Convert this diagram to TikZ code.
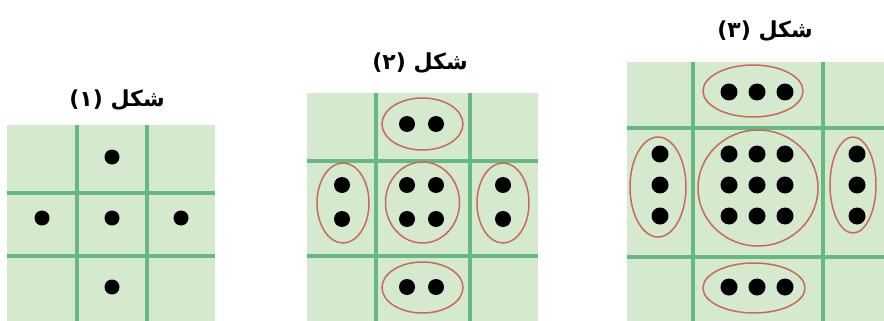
\documentclass[tikz,border=0pt]{standalone}
\usepackage{fontspec}
\newfontfamily\arabicfont[Script=Arabic]{DejaVu Sans}
\TeXXeTstate=1
\definecolor{cellfill}{RGB}{213,233,206}
\definecolor{gridline}{RGB}{102,185,133}
\definecolor{ringred}{RGB}{201,104,92}
\tikzset{
  panel/.style={fill=cellfill,draw=none},
  gline/.style={draw=gridline,line width=3.2pt},
  ring/.style={draw=ringred,line width=1.5pt},
  dotfill/.style={fill=black},
  figtitle/.style={font=\arabicfont\bfseries\fontsize{22}{26}\selectfont,inner sep=0pt}
}
\begin{document}
\begin{tikzpicture}[x=1pt,y=-1pt]
\useasboundingbox (0,0) rectangle (884,321);
\fill[white] (0,0) rectangle (884,321);
% ---------- figure 1 ----------
\fill[panel] (7,125) rectangle (215,321);
\draw[gline] (77,125) -- (77,321);
\draw[gline] (147,125) -- (147,321);
\draw[gline] (7,193) -- (215,193);
\draw[gline] (7,256) -- (215,256);
\foreach \p in {(112,157),(42,218),(112,218),(181,218),(112,287)}
  \fill[dotfill] \p circle[radius=7.5];
\node[figtitle] (t1) at (117,100) {\beginR شکل (۱)\endR};
% ---------- figure 2 ----------
\fill[panel] (307,93) rectangle (538,321);
\draw[gline] (376,93) -- (376,321);
\draw[gline] (470,93) -- (470,321);
\draw[gline] (307,161) -- (538,161);
\draw[gline] (307,256) -- (538,256);
\foreach \p in {(407,124),(436,124),(407,185),(436,185),(407,219),(436,219),(342,185),(342,219),(503,185),(503,219),(407,287),(436,287)}
  \fill[dotfill] \p circle[radius=8];
\draw[ring] (422.5,124) ellipse[x radius=40.5,y radius=26];
\draw[ring] (422.5,202.5) ellipse[x radius=37,y radius=40.5];
\draw[ring] (343,203) ellipse[x radius=26,y radius=40];
\draw[ring] (503,203) ellipse[x radius=26,y radius=40];
\draw[ring] (422.5,287.5) ellipse[x radius=40.5,y radius=25.5];
\node[figtitle] (t2) at (420,63) {\beginR شکل (۲)\endR};
% ---------- figure 3 ----------
\fill[panel] (627,62) rectangle (884,321);
\draw[gline] (693,62) -- (693,321);
\draw[gline] (823,62) -- (823,321);
\draw[gline] (627,128) -- (884,128);
\draw[gline] (627,257) -- (884,257);
\foreach \x in {729,757,785} {
  \fill[dotfill] (\x,92) circle[radius=8.5];
  \fill[dotfill] (\x,287) circle[radius=8.5];
  \foreach \y in {154,185,216}
    \fill[dotfill] (\x,\y) circle[radius=8.5];
}
\foreach \y in {154,185,216} {
  \fill[dotfill] (660,\y) circle[radius=8.5];
  \fill[dotfill] (857,\y) circle[radius=8.5];
}
\draw[ring] (753,91) ellipse[x radius=50,y radius=26];
\draw[ring] (758,188) ellipse[x radius=60,y radius=58];
\draw[ring] (658,187) ellipse[x radius=28,y radius=50];
\draw[ring] (853,185) ellipse[x radius=23,y radius=48];
\draw[ring] (754,288) ellipse[x radius=51,y radius=25];
\node[figtitle] (t3) at (765,31) {\beginR شکل (۳)\endR};
\end{tikzpicture}
\end{document}
